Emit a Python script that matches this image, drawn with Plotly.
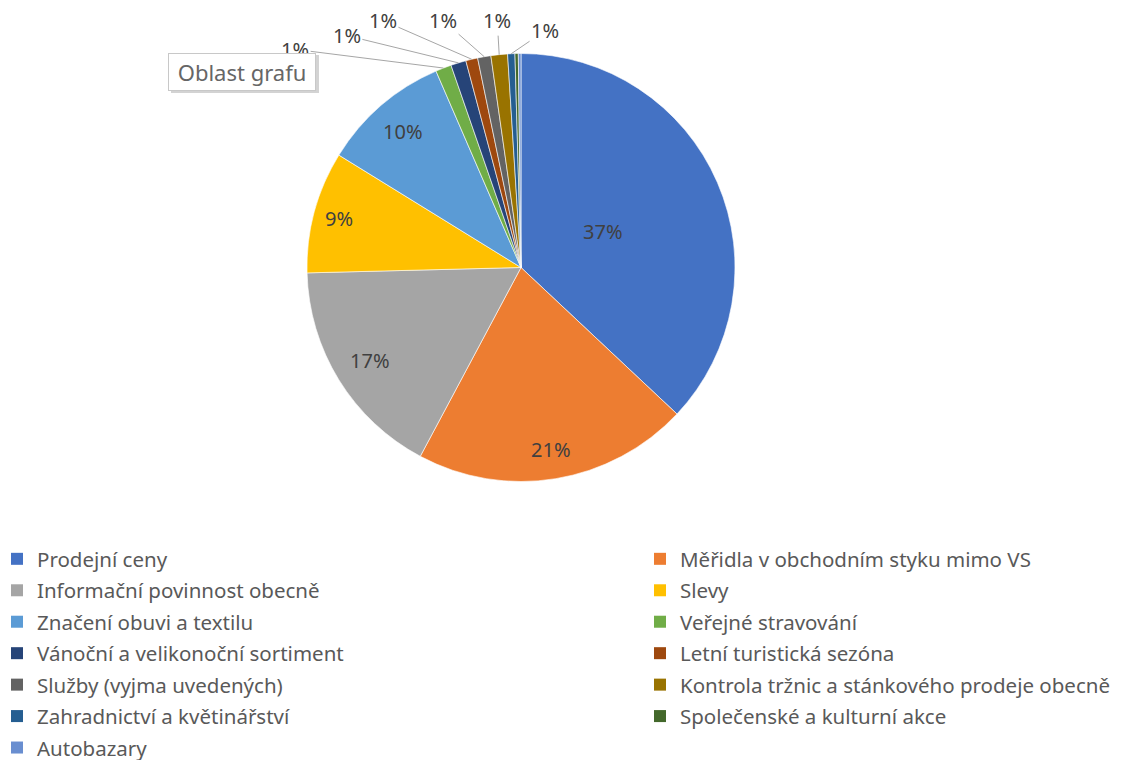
import numpy as np
import plotly.graph_objects as go

# ---- data ----
categories = [
    "Prodejní ceny",
    "Měřidla v obchodním styku mimo VS",
    "Informační povinnost obecně",
    "Slevy",
    "Značení obuvi a textilu",
    "Veřejné stravování",
    "Vánoční a velikonoční sortiment",
    "Letní turistická sezóna",
    "Služby (vyjma uvedených)",
    "Kontrola tržnic a stánkového prodeje obecně",
    "Zahradnictví a květinářství",
    "Společenské a kulturní akce",
    "Autobazary",
]
shares = [37.0, 20.8, 16.8, 9.2, 9.7, 1.2, 1.15, 0.9, 1.0, 1.25, 0.55, 0.25, 0.2]

colors = ["#4472C4", "#ED7D31", "#A5A5A5", "#FFC000", "#5B9BD5", "#70AD47",
          "#264478", "#9E480E", "#636363", "#997300", "#255E91", "#43682B", "#698ED0"]

# ---- layout constants (figure pixels; page body adds an 8 px offset) ----
W, H = 1113, 752
CX, CY, R = 513, 259.5, 214          # pie centre / radius in px
FONT = "Noto Sans"
LABEL_COLOR = "#404040"
LEGEND_COLOR = "#595959"
# radial position (fraction of radius) of the inside labels for the large slices
IN_RADIAL = [0.42, 0.86, 0.83, 0.88, 0.84]
# placement of the outside labels (angle clockwise from top, distance from centre in px)
OUT_ANGLE = [-46, -36.9, -29.2, -17.5, -5.5, 5.8]
OUT_DIST = [314, 290, 283, 259, 248, 238]


def to_paper(px, py):
    return px / W, 1 - py / H


vals = np.array(shares, dtype=float)
pct = vals / vals.sum() * 100
big = pct >= 5

fig = go.Figure()
fig.add_trace(go.Pie(
    labels=categories,
    values=vals,
    sort=False,
    direction="clockwise",
    rotation=0,
    marker=dict(colors=colors, line=dict(color="#FFFFFF", width=0.6)),
    textinfo="none",
    hoverinfo="label+percent",
    showlegend=False,
    domain=dict(x=[(CX - R) / W, (CX + R) / W], y=[1 - (CY + R) / H, 1 - (CY - R) / H]),
))

# legend entries (two columns, Excel style ordering: row-wise)
for i, (cat, col) in enumerate(zip(categories, colors)):
    fig.add_trace(go.Scatter(
        x=[None], y=[None], mode="markers",
        marker=dict(symbol="square", size=11, color=col),
        name=cat, legendgroup=cat, showlegend=True,
        legend="legend" if i % 2 == 0 else "legend2",
        hoverinfo="skip",
    ))

# data labels
cum = np.cumsum(pct) - pct / 2
mid_deg = cum / 100 * 360
annotations = []
kb = ko = 0
for i in range(len(pct)):
    th = np.deg2rad(mid_deg[i])
    txt = f"{round(pct[i]):.0f}%"
    if big[i]:
        rr = R * IN_RADIAL[kb]
        px, py = CX + rr * np.sin(th), CY - rr * np.cos(th)
        x, y = to_paper(px, py)
        annotations.append(dict(
            x=x, y=y, xref="paper", yref="paper", text=txt, showarrow=False,
            xanchor="center", yanchor="middle",
            font=dict(family=FONT, size=20, color=LABEL_COLOR),
        ))
        kb += 1
        continue
    if round(pct[i]) < 1:
        continue
    ex, ey = CX + R * np.sin(th), CY - R * np.cos(th)
    la = np.deg2rad(OUT_ANGLE[ko])
    lx, ly = CX + OUT_DIST[ko] * np.sin(la), CY - OUT_DIST[ko] * np.cos(la)
    x, y = to_paper(ex, ey)
    annotations.append(dict(
        x=x, y=y, xref="paper", yref="paper",
        ax=lx - ex, ay=ly - ey,
        text=txt, showarrow=True, arrowhead=0,
        arrowwidth=1, arrowcolor="#A6A6A6", standoff=0,
        font=dict(family=FONT, size=20, color=LABEL_COLOR),
    ))
    ko += 1

# Excel-style hover tooltip "Oblast grafu"
tip_x, tip_y = 234, 63.5
for dx, dy, fc, bg, bc in [(3, 3, "#d3d3d3", "#d3d3d3", "#d3d3d3"),
                           (0, 0, "#666666", "#FFFFFF", "#C8C8C8")]:
    x, y = to_paper(tip_x + dx, tip_y + dy)
    annotations.append(dict(
        x=x, y=y, xref="paper", yref="paper",
        xanchor="center", yanchor="middle",
        text="&nbsp;Oblast grafu&nbsp;", showarrow=False,
        font=dict(family=FONT, size=22, color=fc),
        bgcolor=bg, bordercolor=bc, borderwidth=1, borderpad=3,
    ))

legend_common = dict(
    orientation="v",
    xanchor="left", yanchor="top",
    y=1 - 531 / H,
    font=dict(family=FONT, size=20.5, color=LEGEND_COLOR),
    tracegroupgap=1.8,
    itemsizing="constant",
    bgcolor="rgba(0,0,0,0)",
)

fig.update_layout(
    width=W, height=H,
    margin=dict(l=0, r=0, t=0, b=0, autoexpand=False),
    paper_bgcolor="#FFFFFF",
    plot_bgcolor="#FFFFFF",
    xaxis=dict(visible=False),
    yaxis=dict(visible=False),
    showlegend=True,
    legend=dict(x=-11 / W, **legend_common),
    legend2=dict(x=632 / W, **legend_common),
    annotations=annotations,
)

fig.write_html("out.html")
